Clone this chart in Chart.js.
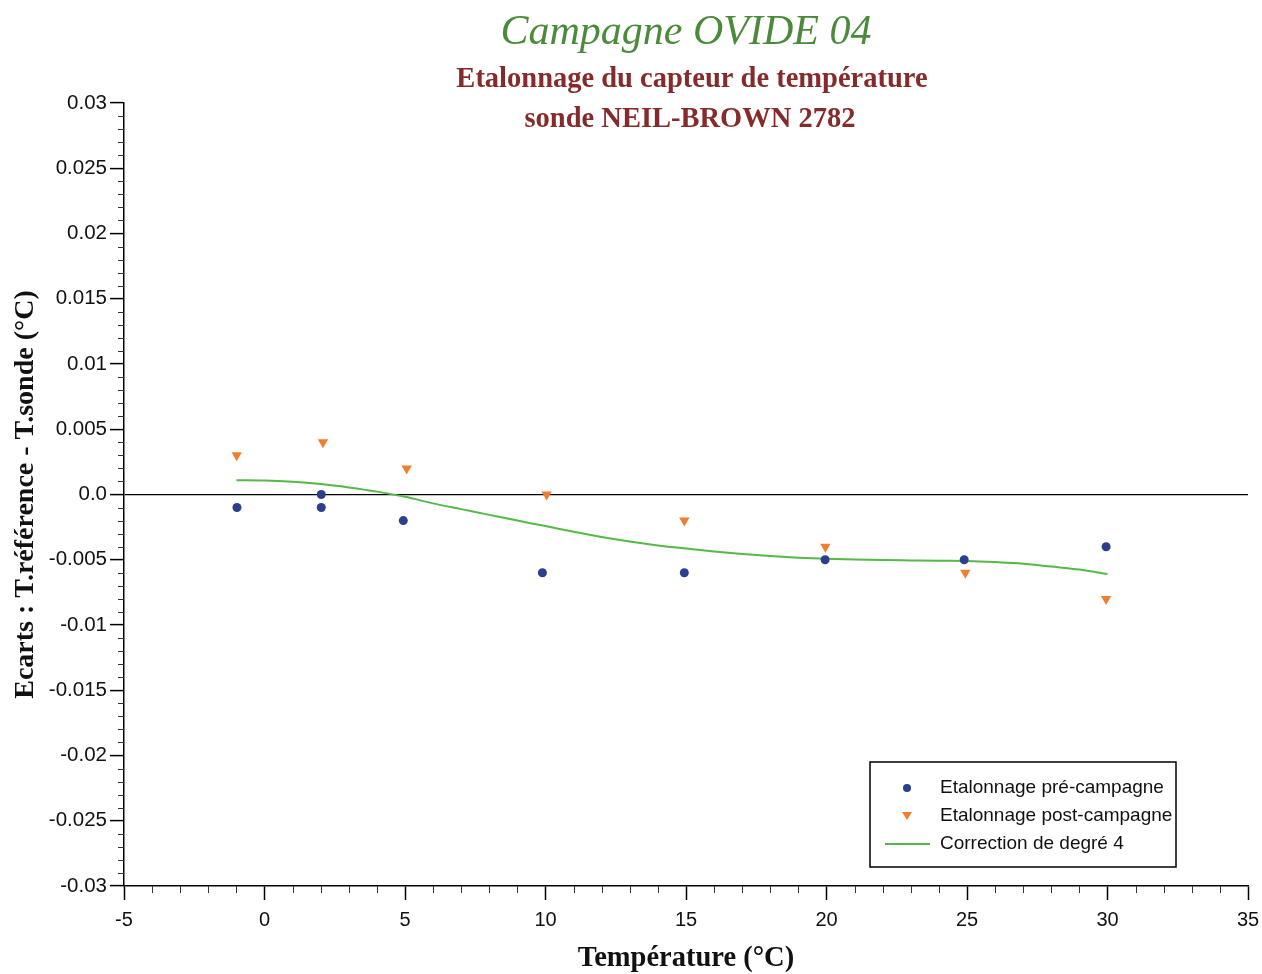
<!DOCTYPE html>
<html>
<head>
<meta charset="utf-8">
<script src="https://cdn.jsdelivr.net/npm/chart.js@4"></script>
<style>
  body { margin: 0; background: #fff; }
  #wrap { width: 1262px; height: 974px; position: relative; }
</style>
</head>
<body>
<div id="wrap"><canvas id="chart" width="1262" height="974"></canvas></div>
<script>
// mesures pré-campagne
const preTemp = [-0.98, 2.02, 2.02, 4.94, 9.89, 14.94, 19.95, 24.9, 29.95];
const preEcart = [-0.001, 0.0, -0.001, -0.002, -0.006, -0.006, -0.005, -0.005, -0.004];

// mesures post-campagne
const postTemp = [-0.99, 2.08, 5.06, 10.04, 14.94, 19.96, 24.94, 29.95];
const postEcart = [0.003, 0.004, 0.002, 0.0, -0.002, -0.004, -0.006, -0.008];

// polynome de correction
const fitTemp = [-1, 0, 1, 2, 3, 4, 5, 6, 7, 8, 9, 10, 11, 12, 13, 14, 15, 16, 17, 18, 19, 20, 21, 22, 23, 24, 25, 26, 27, 28, 29, 30];
const fitEcart = [0.0011, 0.00108, 0.00098, 0.0008, 0.00054, 0.00022, -0.00018, -0.00068, -0.00112, -0.00156, -0.002, -0.00242, -0.00285, -0.00325, -0.0036, -0.0039, -0.00414, -0.00436, -0.00456, -0.00472, -0.00484, -0.00492, -0.00498, -0.00502, -0.00505, -0.00508, -0.0051, -0.00518, -0.0053, -0.00552, -0.00575, -0.00609];

const seriesLabels = ['Etalonnage pré-campagne', 'Etalonnage post-campagne', 'Correction de degré 4'];

const colorPre = '#2c3f8c';
const colorPost = '#ee7f30';
const colorFit = '#55b848';

const toPoints = (xs, ys) => xs.map((x, i) => ({x: x, y: ys[i]}));

const isMajorX = (v) => Math.abs(v % 5) < 1e-9;
const isMajorY = (v) => Math.round(v * 1000) % 5 === 0;

// petites graduations + titres + légende
const decorPlugin = {
    id: 'decor',
    afterDraw(chart) {
        const ctx = chart.ctx;
        const xs = chart.scales.x;
        const ys = chart.scales.y;
        const area = chart.chartArea;

        ctx.save();
        ctx.strokeStyle = '#333';
        ctx.lineWidth = 1;
        xs.ticks.forEach((t) => {
            if (isMajorX(t.value)) return;
            const px = Math.round(xs.getPixelForValue(t.value)) + 0.5;
            ctx.beginPath();
            ctx.moveTo(px, area.bottom);
            ctx.lineTo(px, area.bottom + 7);
            ctx.stroke();
        });
        ys.ticks.forEach((t) => {
            if (isMajorY(t.value)) return;
            const py = Math.round(ys.getPixelForValue(t.value)) + 0.5;
            ctx.beginPath();
            ctx.moveTo(area.left, py);
            ctx.lineTo(area.left - 6, py);
            ctx.stroke();
        });

        // titres
        ctx.textAlign = 'center';
        ctx.textBaseline = 'alphabetic';
        ctx.fillStyle = '#4b8a3a';
        ctx.font = 'italic 42px "Liberation Serif"';
        ctx.fillText('Campagne OVIDE 04', 686, 44);
        ctx.fillStyle = '#862b2b';
        ctx.font = 'bold 28.5px "Liberation Serif"';
        ctx.fillText('Etalonnage du capteur de température', 692, 87);
        ctx.fillText('sonde NEIL-BROWN 2782', 690, 127);

        // légende
        const lx = 870, ly = 762, lw = 306, lh = 105;
        ctx.fillStyle = '#fff';
        ctx.fillRect(lx, ly, lw, lh);
        ctx.strokeStyle = '#000';
        ctx.lineWidth = 1.5;
        ctx.strokeRect(lx, ly, lw, lh);

        ctx.textAlign = 'left';
        ctx.textBaseline = 'middle';
        ctx.font = '19px "Liberation Sans"';
        ctx.fillStyle = '#111';
        const rows = [788, 816, 844];
        seriesLabels.forEach((lab, i) => ctx.fillText(lab, 940, rows[i]));

        ctx.fillStyle = colorPre;
        ctx.beginPath();
        ctx.arc(907, rows[0], 4, 0, Math.PI * 2);
        ctx.fill();

        ctx.fillStyle = colorPost;
        ctx.beginPath();
        ctx.moveTo(902, rows[1] - 4);
        ctx.lineTo(912, rows[1] - 4);
        ctx.lineTo(907, rows[1] + 4);
        ctx.closePath();
        ctx.fill();

        ctx.strokeStyle = colorFit;
        ctx.lineWidth = 2;
        ctx.beginPath();
        ctx.moveTo(885, rows[2]);
        ctx.lineTo(930, rows[2]);
        ctx.stroke();
        ctx.restore();
    }
};

new Chart(document.getElementById('chart'), {
    type: 'scatter',
    data: {
        datasets: [
            {
                label: seriesLabels[0],
                data: toPoints(preTemp, preEcart),
                backgroundColor: colorPre,
                borderColor: colorPre,
                pointStyle: 'circle',
                pointRadius: 4.5,
                pointBorderWidth: 0
            },
            {
                label: seriesLabels[1],
                data: toPoints(postTemp, postEcart),
                backgroundColor: colorPost,
                borderColor: colorPost,
                pointStyle: 'triangle',
                pointRotation: 180,
                pointRadius: 6,
                pointBorderWidth: 0
            },
            {
                type: 'line',
                label: seriesLabels[2],
                data: toPoints(fitTemp, fitEcart),
                borderColor: colorFit,
                borderWidth: 2,
                pointRadius: 0,
                fill: false,
                cubicInterpolationMode: 'monotone'
            }
        ]
    },
    options: {
        responsive: false,
        animation: false,
        layout: {padding: {top: 103, right: 14, left: 0, bottom: 0}},
        plugins: {
            legend: {display: false},
            tooltip: {enabled: false},
            title: {display: false}
        },
        scales: {
            x: {
                type: 'linear',
                min: -5,
                max: 35,
                afterFit: (s) => {
                    s.height = 88;
                    s.paddingLeft = 0;
                    s.paddingRight = 0;
                },
                border: {color: '#000', width: 1.5},
                grid: {
                    drawOnChartArea: false,
                    tickLength: 14,
                    tickWidth: 1.5,
                    tickColor: (c) => isMajorX(c.tick.value) ? '#000' : 'transparent'
                },
                ticks: {
                    stepSize: 1,
                    autoSkip: false,
                    maxRotation: 0,
                    padding: 8,
                    color: '#111',
                    font: {family: 'Liberation Sans', size: 20},
                    callback: (v) => isMajorX(v) ? String(v) : ''
                },
                title: {
                    display: true,
                    text: 'Température (°C)',
                    color: '#111',
                    font: {family: 'Liberation Serif', size: 28.5, weight: 'bold', lineHeight: 1.1},
                    padding: {top: 0, bottom: 0}
                }
            },
            y: {
                min: -0.03,
                max: 0.03,
                afterFit: (s) => {
                    s.width = 124;
                    s.paddingTop = 0;
                    s.paddingBottom = 0;
                },
                border: {color: '#000', width: 1.5},
                grid: {
                    drawOnChartArea: true,
                    color: (c) => (c.tick && Math.abs(c.tick.value) < 1e-9) ? '#000' : 'transparent',
                    lineWidth: 1.2,
                    tickLength: 14,
                    tickWidth: 1.5,
                    tickColor: (c) => isMajorY(c.tick.value) ? '#000' : 'transparent'
                },
                ticks: {
                    stepSize: 0.001,
                    autoSkip: false,
                    padding: 3,
                    color: '#111',
                    font: {family: 'Liberation Sans', size: 20.5},
                    callback: (v) => {
                        if (!isMajorY(v)) return '';
                        if (Math.abs(v) < 1e-9) return '0.0';
                        return String(Math.round(v * 1000) / 1000);
                    }
                },
                title: {
                    display: true,
                    text: 'Ecarts : T.référence - T.sonde (°C)',
                    color: '#111',
                    font: {family: 'Liberation Serif', size: 28, weight: 'bold'},
                    padding: {top: 9, bottom: 0}
                }
            }
        }
    },
    plugins: [decorPlugin]
});
</script>
</body>
</html>
